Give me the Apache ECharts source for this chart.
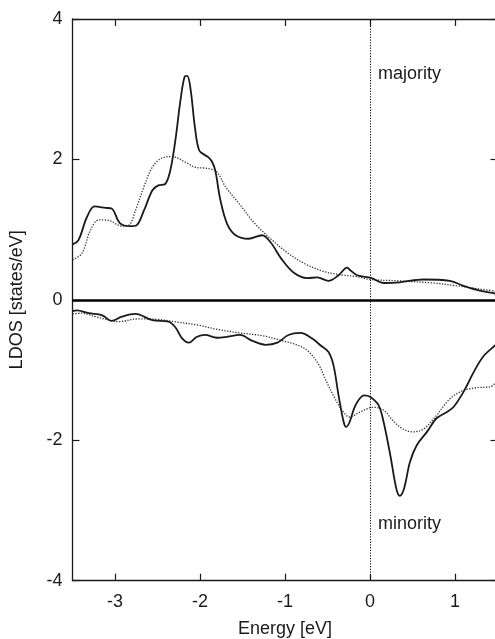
<!DOCTYPE html>
<html>
<head>
<meta charset="utf-8">
<script src="https://cdn.jsdelivr.net/npm/echarts@6/dist/echarts.min.js"></script>
<style>
html,body{margin:0;padding:0;background:#fff;}
#chart{width:495px;height:639px;}
</style>
</head>
<body>
<div id="chart"></div>
<script>
// Energy ticks / labels
const xTicks = [-3, -2, -1, 0, 1];
const yTicks = [-4, -2, 0, 2, 4];

// Majority spin, solid curve
const majSolidE = [-3.5,-3.43,-3.33,-3.24,-3.11,-3.04,-2.94,-2.82,-2.75,-2.66,-2.56,-2.49,-2.41,-2.35,-2.29,-2.23,-2.18,-2.15,-2.11,-2.06,-2.01,-1.94,-1.90,-1.86,-1.82,-1.76,-1.68,-1.58,-1.43,-1.27,-1.17,-1.04,-0.90,-0.74,-0.62,-0.49,-0.37,-0.27,-0.24,-0.15,0.02,0.16,0.35,0.63,0.94,1.10,1.29,1.47,1.5];
const majSolidD = [0.79,0.85,1.18,1.33,1.31,1.30,1.09,1.05,1.06,1.27,1.56,1.63,1.65,1.84,2.27,2.84,3.18,3.19,2.99,2.46,2.13,2.06,2.03,1.97,1.84,1.42,1.08,0.92,0.87,0.92,0.82,0.58,0.39,0.31,0.32,0.27,0.35,0.46,0.43,0.35,0.31,0.24,0.25,0.29,0.27,0.20,0.13,0.09,0.08];

// Majority spin, dotted curve
const majDotE = [-3.5,-3.39,-3.29,-3.19,-3.07,-2.92,-2.84,-2.76,-2.66,-2.56,-2.45,-2.33,-2.17,-2.06,-1.90,-1.80,-1.70,-1.54,-1.35,-1.15,-0.96,-0.76,-0.56,-0.37,-0.15,0.0,0.35,0.74,1.02,1.26,1.5];
const majDotD = [0.57,0.66,0.99,1.14,1.13,1.05,1.06,1.27,1.61,1.89,2.02,2.04,1.96,1.89,1.87,1.82,1.61,1.37,1.08,0.85,0.66,0.51,0.41,0.36,0.33,0.29,0.27,0.24,0.20,0.16,0.12];

// Minority spin, solid curve
const minSolidE = [-3.5,-3.45,-3.31,-3.15,-3.04,-2.92,-2.76,-2.56,-2.37,-2.29,-2.21,-2.13,-2.04,-1.94,-1.80,-1.70,-1.53,-1.39,-1.23,-1.09,-0.96,-0.82,-0.68,-0.58,-0.49,-0.43,-0.37,-0.31,-0.28,-0.24,-0.17,-0.07,0.0,0.10,0.16,0.24,0.31,0.35,0.40,0.47,0.55,0.67,0.78,0.90,0.98,1.10,1.22,1.33,1.47,1.5];
const minSolidD = [-0.16,-0.15,-0.19,-0.22,-0.30,-0.24,-0.20,-0.29,-0.31,-0.39,-0.55,-0.61,-0.53,-0.50,-0.54,-0.53,-0.50,-0.58,-0.64,-0.61,-0.50,-0.47,-0.55,-0.65,-0.74,-0.93,-1.36,-1.74,-1.81,-1.74,-1.50,-1.36,-1.38,-1.50,-1.74,-2.22,-2.69,-2.79,-2.69,-2.31,-2.07,-1.88,-1.69,-1.60,-1.53,-1.31,-1.03,-0.81,-0.65,-0.62];

// Minority spin, dotted curve
const minDotE = [-3.5,-3.39,-3.23,-3.07,-2.96,-2.72,-2.49,-2.25,-2.02,-1.80,-1.54,-1.27,-1.04,-0.84,-0.72,-0.60,-0.51,-0.41,-0.33,-0.24,-0.12,0.04,0.16,0.27,0.39,0.51,0.63,0.78,0.94,1.10,1.26,1.41,1.5];
const minDotD = [-0.20,-0.19,-0.24,-0.29,-0.31,-0.27,-0.28,-0.32,-0.36,-0.42,-0.47,-0.51,-0.58,-0.65,-0.74,-0.93,-1.17,-1.41,-1.57,-1.67,-1.60,-1.53,-1.57,-1.72,-1.84,-1.88,-1.84,-1.65,-1.41,-1.29,-1.25,-1.24,-1.15];

const zip = (a, b) => a.map((v, i) => [v, b[i]]);

const FONT = '"Liberation Sans", Arial, sans-serif';
const INK = '#1a1a1a';
const FS = 18;

const chart = echarts.init(document.getElementById('chart'), null, {renderer: 'canvas'});

const xCommon = {
  type: 'value', min: -3.5, max: 1.5,
  axisLine: {show: true, onZero: false, lineStyle: {color: INK, width: 1.3}},
  axisTick: {show: true, inside: true, length: 7, customValues: xTicks, lineStyle: {color: INK, width: 1.2}},
  splitLine: {show: false}
};
const yCommon = {
  type: 'value', min: -4, max: 4, interval: 2,
  axisLine: {show: true, onZero: false, lineStyle: {color: INK, width: 1.3}},
  axisTick: {show: true, inside: true, length: 7, lineStyle: {color: INK, width: 1.2}},
  splitLine: {show: false}
};

const lineSeries = (data, dotted) => ({
  type: 'line',
  data: data,
  xAxisIndex: 0, yAxisIndex: 0,
  showSymbol: false, symbol: 'none',
  smooth: 0.35,
  clip: true,
  lineStyle: dotted
    ? {color: '#333', width: 1.3, type: [1.3, 1.5]}
    : {color: INK, width: 1.8},
  silent: true
});

const option = {
  animation: false,
  backgroundColor: '#fff',
  grid: {left: 72.5, top: 19, width: 425, height: 561.7, containLabel: false, outerBoundsMode: 'none'},
  xAxis: [
    Object.assign({}, xCommon, {
      position: 'bottom',
      name: 'Energy [eV]', nameLocation: 'middle', nameGap: 39,
      nameTextStyle: {fontFamily: FONT, fontSize: FS, color: INK},
      axisLabel: {show: true, customValues: xTicks, margin: 12, fontFamily: FONT, fontSize: FS, color: INK}
    }),
    Object.assign({}, xCommon, {
      position: 'top',
      axisLabel: {show: false}
    })
  ],
  yAxis: [
    Object.assign({}, yCommon, {
      position: 'left',
      name: 'LDOS [states/eV]', nameLocation: 'middle', nameGap: 46,
      nameTextStyle: {fontFamily: FONT, fontSize: FS, color: INK},
      axisLabel: {show: true, margin: 10, fontFamily: FONT, fontSize: FS, color: INK}
    }),
    Object.assign({}, yCommon, {
      position: 'right',
      axisLabel: {show: false}
    })
  ],
  series: [
    lineSeries(zip(majDotE, majDotD), true),
    lineSeries(zip(minDotE, minDotD), true),
    lineSeries(zip(majSolidE, majSolidD), false),
    Object.assign(lineSeries(zip(minSolidE, minSolidD), false), {
      markLine: {
        silent: true,
        symbol: ['none', 'none'],
        label: {show: false},
        data: [
          {yAxis: 0, lineStyle: {type: 'solid', width: 2.6, color: '#000'}},
          {xAxis: 0, lineStyle: {type: [1.2, 1.5], width: 1, color: '#000'}}
        ]
      }
    })
  ],
  graphic: [
    {type: 'text', left: 378, top: 65, style: {text: 'majority', font: FS + 'px ' + FONT, fill: INK}},
    {type: 'text', left: 378, top: 515, style: {text: 'minority', font: FS + 'px ' + FONT, fill: INK}}
  ]
};

chart.setOption(option);
</script>
</body>
</html>
